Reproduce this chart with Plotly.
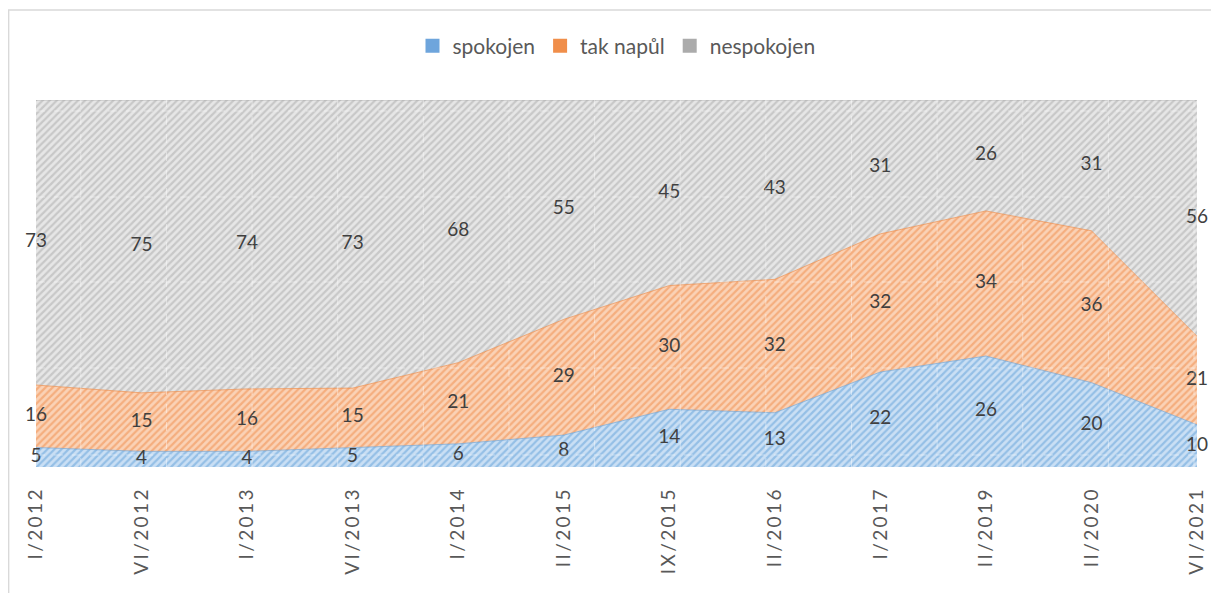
import plotly.graph_objects as go

categories = ["I/2012", "VI/2012", "I/2013", "VI/2013", "I/2014", "II/2015",
              "IX/2015", "II/2016", "I/2017", "II/2019", "II/2020", "VI/2021"]
spokojen = [5, 4, 4, 5, 6, 8, 14, 13, 22, 26, 20, 10]
tak_napul = [16, 15, 16, 15, 21, 29, 30, 32, 32, 34, 36, 21]
nespokojen = [73, 75, 74, 73, 68, 55, 45, 43, 31, 26, 31, 56]

series = [
    ("spokojen", spokojen, "#cadff4", "#5f9fd8", "rgba(91,155,213,0.6)", "#6ea5dc"),
    ("tak napůl", tak_napul, "#fad2b6", "#ef8946", "rgba(237,125,49,0.6)", "#f08e4a"),
    ("nespokojen", nespokojen, "#e6e6e6", "#a9a9a9", "rgba(165,165,165,0.6)", "#ababab"),
]

FONT = "Lato, 'Open Sans', sans-serif"
TEXT = "#404040"
THIN = "\u2009"

fig = go.Figure()
for name, vals, bg, fg, ln, solid in series:
    fig.add_trace(go.Scatter(
        x=categories, y=vals, name=name, mode="lines",
        stackgroup="one", groupnorm="percent",
        line=dict(width=1, color=ln),
        fillcolor=bg,
        fillpattern=dict(shape="/", bgcolor=bg, fgcolor=fg, size=5, solidity=0.45),
        hoverinfo="skip", showlegend=False,
    ))

# legend entries as small squares
for name, vals, bg, fg, ln, solid in series:
    fig.add_trace(go.Scatter(
        x=[None], y=[None], name=name, mode="markers",
        marker=dict(symbol="square", size=14, color=solid, line=dict(width=0)),
        showlegend=True, hoverinfo="skip",
    ))

# data labels at the middle of each band (percent scale)
totals = [a + b + c for a, b, c in zip(spokojen, tak_napul, nespokojen)]
cum = [0.0] * len(categories)
for name, vals, *_ in series:
    mids = []
    for i, v in enumerate(vals):
        p = v / totals[i] * 100
        mids.append(cum[i] + p / 2)
        cum[i] += p
    fig.add_trace(go.Scatter(
        x=categories, y=mids, mode="text", text=[str(v) for v in vals],
        textposition="middle center", showlegend=False, cliponaxis=False,
        textfont=dict(family=FONT, size=19, color=TEXT), hoverinfo="skip",
    ))

shapes = []
# faint dashed background grid
W, H = 1166.0, 367.0
x_px = 81
while x_px < 1202:
    xp = (x_px - 36) / W
    shapes.append(dict(type="line", xref="paper", yref="paper", x0=xp, x1=xp, y0=0, y1=1,
                       line=dict(color="rgba(255,255,255,0.45)", width=1, dash="dash"), layer="above"))
    x_px += 86
for y_px in [111, 197, 282, 368, 455]:
    yp = (467 - y_px) / H
    shapes.append(dict(type="line", xref="paper", yref="paper", x0=0, x1=1, y0=yp, y1=yp,
                       line=dict(color="rgba(255,255,255,0.45)", width=1, dash="dash"), layer="above"))
# outer chart border
shapes.append(dict(type="rect", xref="paper", yref="paper",
                   x0=(8.5 - 36) / W, x1=(1240 - 36) / W, y0=(467 - 640) / H, y1=(467 - 10) / H,
                   line=dict(color="#d9d9d9", width=1.5), fillcolor="rgba(0,0,0,0)", layer="below"))

ticktext = [THIN.join(list(c)) for c in categories]

fig.update_layout(
    width=1211, height=585,
    margin=dict(l=28, r=17, t=92, b=126),
    paper_bgcolor="white", plot_bgcolor="white",
    font=dict(family=FONT, color="#595959"),
    showlegend=True,
    legend=dict(orientation="h", x=0.5, xanchor="center", y=(467 - 46) / H, yanchor="middle",
                font=dict(family=FONT, size=21, color="#595959"), traceorder="normal",
                itemwidth=30, bgcolor="rgba(0,0,0,0)"),
    xaxis=dict(type="category", range=[0, len(categories) - 1], showgrid=False, zeroline=False,
               showline=False, ticks="outside", ticklen=14, tickcolor="rgba(0,0,0,0)",
               tickangle=-90,
               tickmode="array", tickvals=categories, ticktext=ticktext,
               tickfont=dict(family=FONT, size=19, color="#595959")),
    yaxis=dict(range=[0, 100], visible=False, showgrid=False, zeroline=False),
    shapes=shapes,
)

fig.write_html("out.html")
